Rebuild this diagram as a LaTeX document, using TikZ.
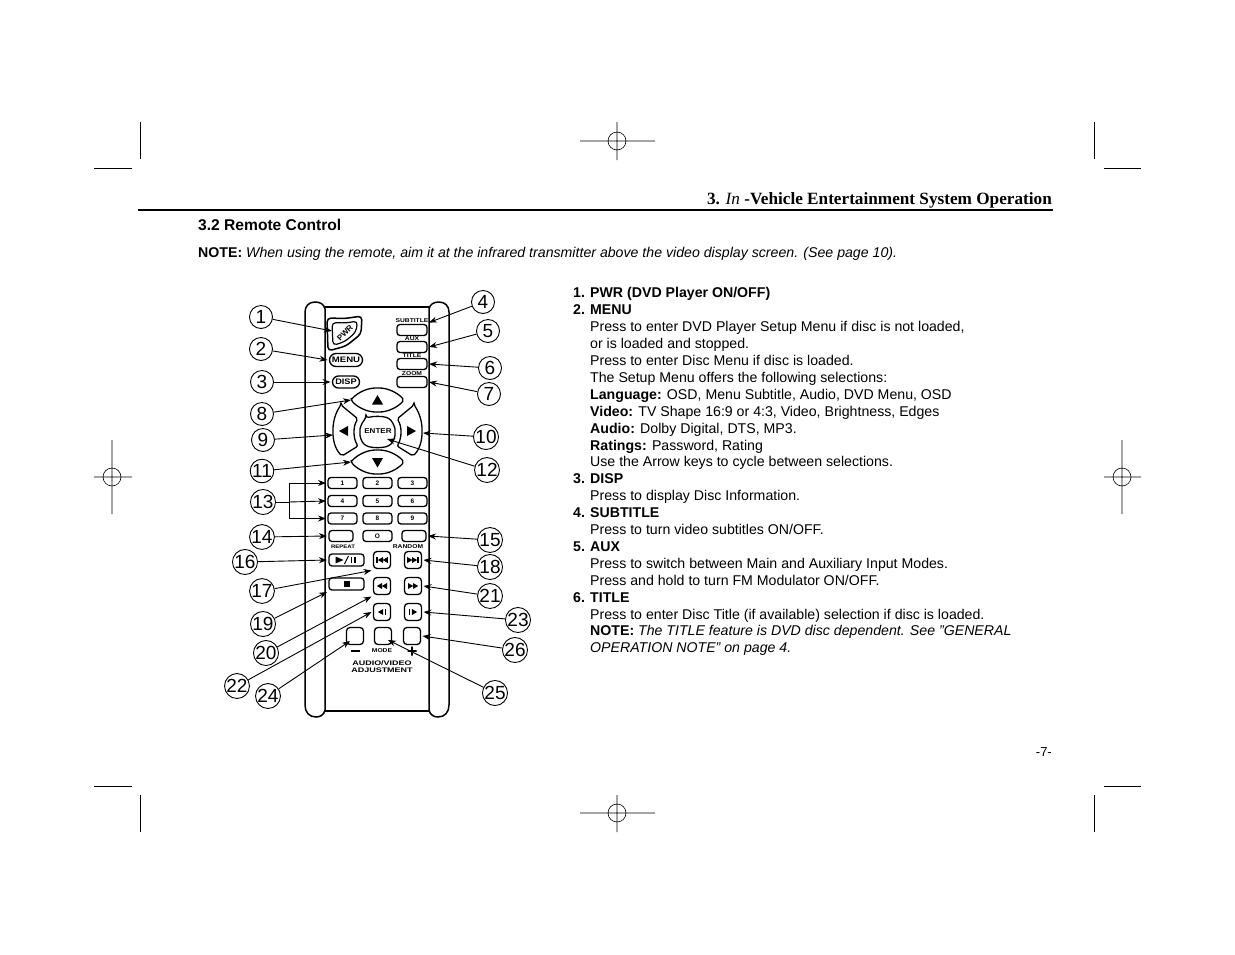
\documentclass[tikz,border=0pt]{standalone}
\usepackage{fontspec}
\setmainfont{Liberation Sans}
\newfontfamily\headfont{Liberation Serif}
\usepackage{tikz}
\usetikzlibrary{arrows.meta, shapes.misc}
\newcommand{\itemhead}[2]{\makebox[17pt][l]{\textbf{#1}}\textbf{#2}}
\newcommand{\itemtab}{\hspace*{17pt}}
\newcommand{\widetag}[2][1.2]{\scalebox{#1}[1]{#2}}
\newcommand{\triright}[2]{\fill (#1,#2) ++(-2.6,-3) -- ++(5.2,3) -- ++(-5.2,3) -- cycle;}
\newcommand{\trileft}[2]{\fill (#1,#2) ++(2.6,-3) -- ++(-5.2,3) -- ++(5.2,3) -- cycle;}
\newcommand{\barmark}[2]{\fill (#1-0.6,#2-3) rectangle (#1+0.6,#2+3);}

\begin{document}
\begin{tikzpicture}[
    x=1pt, y=-1pt,
    >={Stealth[length=8pt,width=6pt]},
    crop/.style={line width=0.9pt},
    key/.style={draw, line width=1.3pt, rounded corners=3pt, inner sep=0pt, outer sep=2pt, minimum width=#1, minimum height=11pt},
    sqkey/.style={draw, line width=1.3pt, rounded corners=3.5pt, inner sep=0pt, outer sep=2pt, minimum width=17pt, minimum height=17pt},
    oval/.style={draw, rounded rectangle, line width=1.3pt, inner sep=0pt, outer sep=2pt, minimum width=#1, minimum height=13pt},
    arrowkey/.style={line width=1.3pt, rounded corners=2pt},
    keytag/.style={font=\bfseries\fontsize{5.6pt}{6pt}\selectfont, inner sep=0pt},
    keynum/.style={font=\bfseries\fontsize{6.5pt}{7pt}\selectfont, inner sep=0pt},
    callout/.style={circle, draw, line width=0.9pt, inner sep=0pt, minimum size=23pt, font=\fontsize{19pt}{19pt}\selectfont},
    lead/.style={->, line width=0.9pt},
    bodytext/.style={inner sep=0pt, anchor=base west, font=\fontsize{14.15pt}{17pt}\selectfont},
]
    \useasboundingbox (0,0) rectangle (1235,954);
    \fill[white] (0,0) rectangle (1235,954);

    % Crop marks
    \draw[crop] (140.5,122) -- (140.5,159) (94,168) -- (132,168);
    \draw[crop] (1094.5,122) -- (1094.5,159) (1104,168) -- (1141,168);
    \draw[crop] (140.5,795) -- (140.5,832) (94,786) -- (132,786);
    \draw[crop] (1094.5,795) -- (1094.5,832) (1104,786) -- (1141,786);

    % Registration marks
    \draw[crop, line width=0.6pt] (580,141) -- (655,141) (617,122) -- (617,160) (617,141) circle (9);
    \draw[crop, line width=0.6pt] (580,813) -- (655,813) (617,795) -- (617,832) (617,813) circle (9);
    \draw[crop, line width=0.6pt] (94,477) -- (132,477) (112,440) -- (112,514) (112,477) circle (9);
    \draw[crop, line width=0.6pt] (1104,477) -- (1141,477) (1122,440) -- (1122,514) (1122,477) circle (9);

    % Page head
    \node[inner sep=0pt, anchor=base east, font=\headfont\bfseries\fontsize{17.2pt}{18pt}\selectfont] (head) at (1052,204) {3. \textit{\mdseries In} -Vehicle Entertainment System Operation};
    \draw[line width=1.7pt] (138,210) -- (1053,210);
    \node[bodytext, font=\bfseries\fontsize{15.6pt}{17pt}\selectfont] (title) at (198,230) {3.2 Remote Control};
    \node[bodytext] (note) at (198,257) {\textbf{NOTE:} \textit{When using the remote, aim it at the infrared transmitter above the video display screen. (See page 10).}};
    \node[inner sep=0pt, anchor=base east, font=\fontsize{13pt}{15pt}\selectfont] (page) at (1052,756) {-7-};

    % Item list
    \node[inner sep=0pt, anchor=north west, align=left, font=\fontsize{14.15pt}{16.9pt}\selectfont] (items) at (573,287.5) {%
        \itemhead{1.}{PWR (DVD Player ON/OFF)}\\
        \itemhead{2.}{MENU}\\
        \itemtab Press to enter DVD Player Setup Menu if disc is not loaded,\\
        \itemtab or is loaded and stopped.\\
        \itemtab Press to enter Disc Menu if disc is loaded.\\
        \itemtab The Setup Menu offers the following selections:\\
        \itemtab \textbf{Language:} OSD, Menu Subtitle, Audio, DVD Menu, OSD\\
        \itemtab \textbf{Video:} TV Shape 16:9 or 4:3, Video, Brightness, Edges\\
        \itemtab \textbf{Audio:} Dolby Digital, DTS, MP3.\\
        \itemtab \textbf{Ratings:} Password, Rating\\
        \itemtab Use the Arrow keys to cycle between selections.\\
        \itemhead{3.}{DISP}\\
        \itemtab Press to display Disc Information.\\
        \itemhead{4.}{SUBTITLE}\\
        \itemtab Press to turn video subtitles ON/OFF.\\
        \itemhead{5.}{AUX}\\
        \itemtab Press to switch between Main and Auxiliary Input Modes.\\
        \itemtab Press and hold to turn FM Modulator ON/OFF.\\
        \itemhead{6.}{TITLE}\\
        \itemtab Press to enter Disc Title (if available) selection if disc is loaded.\\
        \itemtab \textbf{NOTE:} \textit{The TITLE feature is DVD disc dependent. See "GENERAL}\\
        \itemtab \textit{OPERATION NOTE" on page 4.}};

    % Remote body
    \draw[line width=1.8pt] (325,307) -- (429,307) (325,711) -- (429,711);
    \draw[line width=1.5pt] (325,309) .. controls (324,304) and (320,302) .. (315,302) .. controls (309,302) and (305,306) .. (305,312) -- (305,705) .. controls (305,712) and (309,717) .. (316,717) .. controls (320,717) and (324,715) .. (325,710) -- cycle;
    \draw[line width=1.5pt] (429,309) .. controls (430,304) and (434,302) .. (439,302) .. controls (445,302) and (449,306) .. (449,312) -- (449,705) .. controls (449,712) and (445,717) .. (438,717) .. controls (434,717) and (430,715) .. (429,710) -- cycle;

    % PWR key
    \draw[line width=1.5pt, rounded corners=4pt] (327,318) -- (345,318.5) -- (362,316) -- (361,334) -- (346,346) -- (328,351) -- cycle;
    \draw[line width=1.2pt, rounded corners=4pt] (332,322.5) -- (346,323) -- (357.5,321) -- (356,332) -- (345,341.5) -- (333,345.5) -- cycle;
    \node[font=\bfseries\fontsize{8pt}{8pt}\selectfont, inner sep=0pt, rotate=45] (pwr) at (345,333) {PWR};
    \node[oval=33pt, font=\bfseries\fontsize{8pt}{8pt}\selectfont] (menu) at (346,360) {\widetag{MENU}};
    \node[oval=27pt, minimum height=12pt, font=\bfseries\fontsize{8pt}{8pt}\selectfont] (disp) at (346,382) {\widetag[1.15]{DISP}};

    % Top right keys
    \node[key=30pt] (subtitle) at (412,330) {};
    \node[key=30pt] (aux) at (412,347) {};
    \node[key=30pt] (titlekey) at (412,364) {};
    \node[key=30pt] (zoomkey) at (412,382) {};
    \node[keytag] (subtitletag) at (412,321) {\widetag{SUBTITLE}};
    \node[keytag] (auxtag) at (412,338.5) {\widetag{AUX}};
    \node[keytag] (titletag) at (412,356) {\widetag{TITLE}};
    \node[keytag] (zoomtag) at (412,374) {\widetag{ZOOM}};

    % Arrow keys
    \draw[arrowkey] (351,400) .. controls (358,392) and (368,388) .. (377.5,388) .. controls (387,388) and (397,392) .. (404,400) .. controls (397,408) and (387,412) .. (377.5,412) .. controls (368,412) and (358,408) .. (351,400) -- cycle;
    \draw[arrowkey] (351,462) .. controls (358,454) and (368,450) .. (377.5,450) .. controls (387,450) and (397,454) .. (404,462) .. controls (397,470) and (387,474) .. (377.5,474) .. controls (368,474) and (358,470) .. (351,462) -- cycle;
    \draw[arrowkey] (341,405) -- (358,419) .. controls (353,426) and (353,438) .. (358,446) -- (342,456) .. controls (335,449) and (333,440) .. (333,431) .. controls (333,421) and (336,412) .. (341,405) -- cycle;
    \draw[arrowkey] (414,405) -- (397,419) .. controls (402,426) and (402,438) .. (397,446) -- (413,456) .. controls (420,449) and (422,440) .. (422,431) .. controls (422,421) and (419,412) .. (414,405) -- cycle;
    \draw[arrowkey, rounded corners=3pt] (366,418) .. controls (374,416) and (381,416) .. (389,418) .. controls (394,424) and (395,429) .. (395,432) .. controls (395,436) and (394,441) .. (389,446) .. controls (381,448) and (374,448) .. (366,446) .. controls (361,441) and (360,436) .. (360,432) .. controls (360,429) and (361,424) .. (366,418) -- cycle;
    \node[font=\bfseries\fontsize{7pt}{8pt}\selectfont, inner sep=0pt] (enter) at (378,431.5) {\widetag[1.15]{ENTER}};
    \fill (377.5,395) -- (383,404.5) -- (372,404.5) -- cycle;
    \fill (377.5,467.5) -- (383,458) -- (372,458) -- cycle;
    \fill (339,431) -- (348,426) -- (348,436) -- cycle;
    \fill (416,431) -- (407,426) -- (407,436) -- cycle;
    \coordinate (upkey) at (351,400);
    \coordinate (downkey) at (351,462);
    \coordinate (leftkey) at (333,435);
    \coordinate (rightkey) at (423,433);
    \coordinate (entertip) at (387,439);

    % Number keys
    \node[key=29pt, keynum] (n1) at (342.5,483) {1};
    \node[key=29pt, keynum] (n2) at (377.5,483) {2};
    \node[key=29pt, keynum] (n3) at (412.5,483) {3};
    \node[key=29pt, keynum] (n4) at (342.5,501) {4};
    \node[key=29pt, keynum] (n5) at (377.5,501) {5};
    \node[key=29pt, keynum] (n6) at (412.5,501) {6};
    \node[key=29pt, keynum] (n7) at (342.5,518.5) {7};
    \node[key=29pt, keynum] (n8) at (377.5,518.5) {8};
    \node[key=29pt, keynum] (n9) at (412.5,518.5) {9};
    \node[key=24pt] (repeatkey) at (341,536) {};
    \node[key=29pt, keynum] (n0) at (377.5,536) {O};
    \node[key=24pt] (randomkey) at (414,536) {};
    \node[keytag, font=\bfseries\fontsize{5pt}{6pt}\selectfont] (repeattag) at (343,547) {\widetag{REPEAT}};
    \node[keytag] (randomtag) at (408,547) {\widetag{RANDOM}};

    % Transport keys
    \node[key=35pt, minimum height=12pt] (play) at (346.5,560) {};
    \node[key=35pt, minimum height=12pt] (stopkey) at (346.5,584) {};
    \node[sqkey] (prev) at (382,560) {};
    \node[sqkey] (next) at (413,560) {};
    \node[sqkey] (rew) at (382,586) {};
    \node[sqkey] (fwd) at (413,586) {};
    \node[sqkey] (stepback) at (382,612) {};
    \node[sqkey] (stepfwd) at (413,612) {};
    \node[sqkey] (minuskey) at (355,636) {};
    \node[sqkey] (modekey) at (383,636) {};
    \node[sqkey] (pluskey) at (412,636) {};
    \begin{scope}[shift={(play)}]
        \fill (-11,-3.5) -- (-3,0) -- (-11,3.5) -- cycle;
        \draw[line width=1pt] (-2,4) -- (2,-4);
        \barmark{5}{0} \barmark{8.5}{0}
    \end{scope}
    \fill (stopkey.center) ++(-3,-3) rectangle ++(6,6);
    \begin{scope}[shift={(prev)}]
        \barmark{-5}{0} \trileft{-1.6}{0} \trileft{3.2}{0}
    \end{scope}
    \begin{scope}[shift={(next)}]
        \triright{-3.2}{0} \triright{1.6}{0} \barmark{5}{0}
    \end{scope}
    \begin{scope}[shift={(rew)}]
        \trileft{-2.6}{0} \trileft{2.4}{0}
    \end{scope}
    \begin{scope}[shift={(fwd)}]
        \triright{-2.4}{0} \triright{2.6}{0}
    \end{scope}
    \begin{scope}[shift={(stepback)}]
        \trileft{-1.5}{0} \barmark{3.5}{0}
    \end{scope}
    \begin{scope}[shift={(stepfwd)}]
        \barmark{-3.5}{0} \triright{1.5}{0}
    \end{scope}

    % Lower labels
    \node[keytag] (modetag) at (382,651) {\widetag{MODE}};
    \node[keytag, font=\bfseries\fontsize{6.6pt}{7pt}\selectfont] (avtag) at (382,663.5) {\widetag[1.36]{AUDIO/VIDEO}};
    \node[keytag, font=\bfseries\fontsize{6.6pt}{7pt}\selectfont] (adjtag) at (382,670.5) {\widetag[1.36]{ADJUSTMENT}};
    \fill (350.5,650.3) rectangle (359.5,651.7);
    \fill (407.5,650.2) rectangle (416.5,651.8) (411.2,646.5) rectangle (412.8,655.5);

    % Callouts
    \node[callout] (c1) at (261,317) {1};
    \node[callout] (c2) at (261,349) {2};
    \node[callout] (c3) at (262,382) {3};
    \node[callout] (c4) at (483,302) {4};
    \node[callout] (c5) at (488,331) {5};
    \node[callout] (c6) at (490,368) {6};
    \node[callout] (c7) at (489,394) {7};
    \node[callout] (c8) at (262,414) {8};
    \node[callout] (c9) at (263,440) {9};
    \node[callout] (c10) at (486,437) {10};
    \node[callout] (c11) at (262,471) {11};
    \node[callout] (c12) at (487,470) {12};
    \node[callout] (c13) at (263,502) {13};
    \node[callout] (c14) at (262,537) {14};
    \node[callout] (c15) at (490,540) {15};
    \node[callout] (c16) at (245,562) {16};
    \node[callout] (c17) at (262,591) {17};
    \node[callout] (c18) at (490,567) {18};
    \node[callout] (c19) at (263,624) {19};
    \node[callout] (c20) at (266,653) {20};
    \node[callout] (c21) at (490,596) {21};
    \node[callout] (c22) at (237,686) {22};
    \node[callout] (c23) at (518,620) {23};
    \node[callout] (c24) at (268,696) {24};
    \node[callout] (c25) at (495,693) {25};
    \node[callout] (c26) at (515,650) {26};

    % Leaders
    \coordinate (pwrtip) at (332,331);
    \coordinate (minustip) at (350,641);
    \coordinate (modetip) at (388,640);
    \coordinate (fork) at (289,502);
    \draw[lead] (c1) -- (pwrtip);
    \draw[lead] (c2) -- (menu.west);
    \draw[lead] (c3) -- (disp.west);
    \draw[lead] (c4) -- (subtitle.north east);
    \draw[lead] (c5) -- (aux.east);
    \draw[lead] (c6) -- (titlekey.east);
    \draw[lead] (c7) -- (zoomkey.east);
    \draw[lead] (c8) -- (upkey);
    \draw[lead] (c9) -- (leftkey);
    \draw[lead] (c10) -- (rightkey);
    \draw[lead] (c11) -- (downkey);
    \draw[lead] (c12) -- (entertip);
    \draw[line width=0.9pt] (c13) -- (fork);
    \draw[lead] (fork) |- (n1.west);
    \draw[lead] (fork) -- (n4.west);
    \draw[lead] (fork) |- (n7.west);
    \draw[lead] (c14) -- (repeatkey.west);
    \draw[lead] (c15) -- (randomkey.east);
    \draw[lead] (c16) -- (play.west);
    \draw[lead] (c17) -- (prev.south west);
    \draw[lead] (c18) -- (next.east);
    \draw[lead] (c19) -- (stopkey.south west);
    \draw[lead] (c20) -- (rew.south west);
    \draw[lead] (c21) -- (fwd.east);
    \draw[lead] (c22) -- (stepback.west);
    \draw[lead] (c23) -- (stepfwd.east);
    \draw[lead] (c24) -- (minustip);
    \draw[lead] (c25) -- (modetip);
    \draw[lead] (c26) -- (pluskey.east);
\end{tikzpicture}
\end{document}
